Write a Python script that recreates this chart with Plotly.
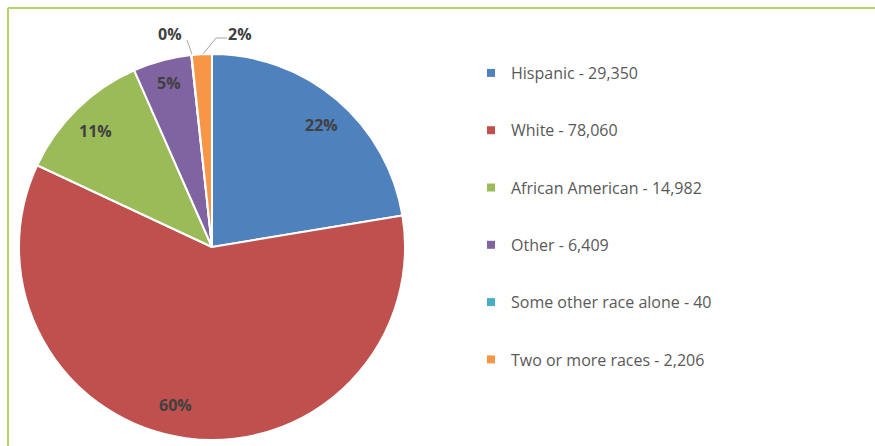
import plotly.graph_objects as go

labels = ["Hispanic", "White", "African American", "Other", "Some other race alone", "Two or more races"]
values = [29350, 78060, 14982, 6409, 40, 2206]
colors = ["#4F81BD", "#C0504D", "#9BBB59", "#8064A2", "#4BACC6", "#F79646"]
pct_labels = ["22%", "60%", "11%", "5%", "0%", "2%"]
# label centres (pixels from top-left), one per slice
label_px = [(321, 125), (175, 405), (95, 131), (169, 83), (170, 34), (240, 34)]

W, H = 875, 446
cx, cy, r = 212, 247, 193
LABEL_FONT = dict(family="Open Sans", size=16, color="#404040", weight="bold")

fig = go.Figure()
fig.add_trace(go.Pie(
    labels=labels, values=values, sort=False, direction="clockwise", rotation=0,
    marker=dict(colors=colors, line=dict(color="white", width=2)),
    textinfo="none",
    showlegend=False, hoverinfo="label+value+percent",
    domain=dict(x=[(cx - r) / W, (cx + r) / W], y=[(H - cy - r) / H, (H - cy + r) / H]),
))

for lab, val, col in zip(labels, values, colors):
    fig.add_trace(go.Scatter(
        x=[None], y=[None], mode="markers",
        marker=dict(symbol="square", size=8, color=col),
        name=f"{lab} - {val:,}", legendgroup=lab, showlegend=True,
    ))

annotations = [
    dict(x=px / W, y=(H - py) / H, xref="paper", yref="paper", text=t, showarrow=False,
         xanchor="center", yanchor="middle", font=LABEL_FONT)
    for t, (px, py) in zip(pct_labels, label_px)
]

shapes = [
    dict(type="line", xref="paper", yref="paper", x0=8 / W, x1=1, y0=(H - 8) / H, y1=(H - 8) / H,
         line=dict(color="#B3D465", width=2)),
    dict(type="line", xref="paper", yref="paper", x0=8 / W, x1=8 / W, y0=0, y1=(H - 8) / H,
         line=dict(color="#B3D465", width=2)),
    dict(type="line", xref="paper", yref="paper", x0=187 / W, y0=(H - 40) / H, x1=192 / W, y1=(H - 54) / H,
         line=dict(color="#A6A6A6", width=1)),
    dict(type="path", xref="paper", yref="paper",
         path=f"M {203 / W},{(H - 54) / H} L {216 / W},{(H - 38) / H} L {227 / W},{(H - 38) / H}",
         line=dict(color="#A6A6A6", width=1)),
]

fig.update_layout(
    width=W, height=H, margin=dict(l=0, r=0, t=0, b=0),
    paper_bgcolor="white", plot_bgcolor="white",
    xaxis=dict(visible=False), yaxis=dict(visible=False),
    shapes=shapes, annotations=annotations,
    legend=dict(x=471 / W, y=(H - 56) / H, xanchor="left", yanchor="top",
                font=dict(family="Open Sans", size=16, color="#595959"),
                tracegroupgap=33.5, itemwidth=30, bgcolor="rgba(0,0,0,0)"),
)

fig.write_html("out.html", config={"displayModeBar": False},
               post_script="document.body.style.margin='0px';")
